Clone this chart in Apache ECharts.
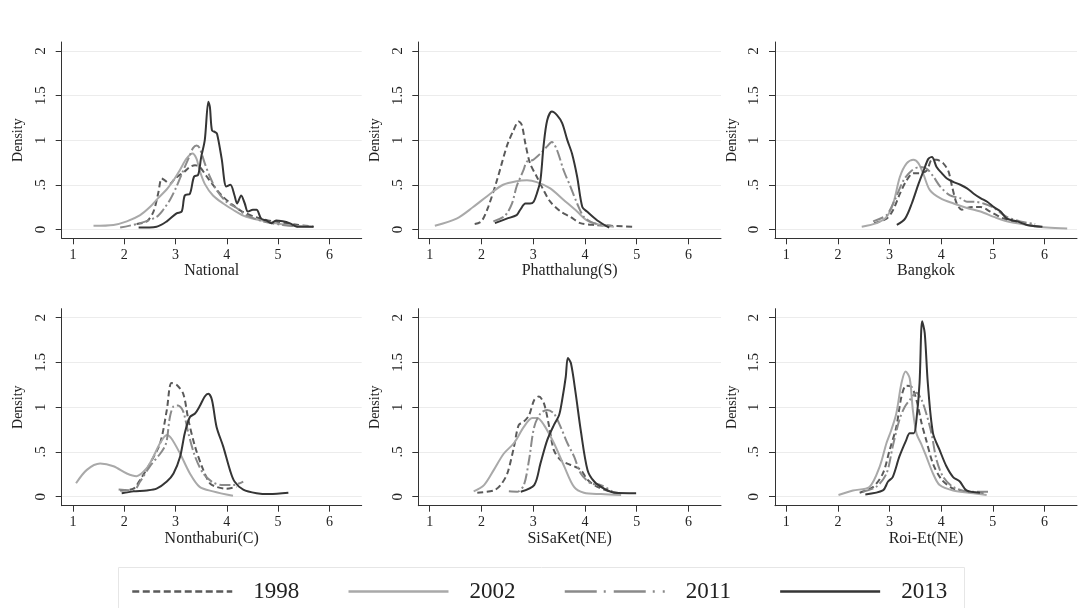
<!DOCTYPE html>
<html><head><meta charset="utf-8">
<script src="https://cdn.jsdelivr.net/npm/echarts@6/dist/echarts.min.js"></script>
<style>html,body{margin:0;padding:0;background:#fff}#c{width:1081px;height:608px}</style>
</head><body><div id="c"></div><script>
const years = ['1998', '2002', '2011', '2013'];
const panelNames = ['National', 'Phatthalung(S)', 'Bangkok', 'Nonthaburi(C)', 'SiSaKet(NE)', 'Roi-Et(NE)'];
const yTicks = [0, 0.5, 1, 1.5, 2];
const yTickLabels = ['0', '.5', '1', '1.5', '2'];
const xTicks = [1, 2, 3, 4, 5, 6];

// National
const national1998 = [[2.24,0.06],[2.44,0.09],[2.57,0.2],[2.66,0.4],[2.73,0.57],[2.79,0.55],[2.89,0.51],[2.99,0.57],[3.18,0.65],[3.28,0.7],[3.38,0.72],[3.47,0.7],[3.6,0.6],[3.7,0.52],[3.9,0.38],[4.1,0.28],[4.3,0.2],[4.6,0.13],[5.0,0.08],[5.4,0.05],[5.7,0.03]];
const national2002 = [[1.4,0.04],[1.79,0.05],[2.05,0.09],[2.31,0.16],[2.5,0.25],[2.66,0.35],[2.83,0.45],[2.96,0.55],[3.08,0.66],[3.21,0.79],[3.33,0.85],[3.41,0.79],[3.47,0.66],[3.57,0.51],[3.73,0.38],[3.93,0.29],[4.12,0.22],[4.38,0.14],[4.77,0.09],[5.16,0.05],[5.68,0.03]];
const national2011 = [[1.92,0.02],[2.31,0.07],[2.63,0.14],[2.76,0.22],[2.89,0.33],[3.02,0.48],[3.15,0.66],[3.28,0.83],[3.34,0.91],[3.41,0.94],[3.47,0.91],[3.57,0.74],[3.67,0.59],[3.8,0.44],[3.99,0.31],[4.19,0.24],[4.38,0.16],[4.7,0.09],[5.09,0.05],[5.42,0.03]];
const national2013 = [[2.28,0.02],[2.63,0.03],[2.83,0.09],[3.02,0.18],[3.12,0.2],[3.18,0.38],[3.28,0.4],[3.36,0.59],[3.44,0.61],[3.5,0.81],[3.57,1.0],[3.64,1.43],[3.67,1.37],[3.71,1.11],[3.77,1.09],[3.81,1.07],[3.9,0.79],[3.99,0.48],[4.07,0.5],[4.15,0.38],[4.2,0.29],[4.28,0.38],[4.35,0.29],[4.41,0.2],[4.51,0.22],[4.58,0.22],[4.67,0.12],[4.77,0.1],[4.87,0.07],[4.96,0.1],[5.09,0.09],[5.22,0.07],[5.38,0.03],[5.68,0.03]];

// Phatthalung(S)
const phatthalung1998 = [[1.87,0.06],[2.0,0.09],[2.13,0.25],[2.3,0.55],[2.49,0.93],[2.62,1.11],[2.72,1.21],[2.78,1.17],[2.85,0.96],[2.94,0.74],[3.07,0.59],[3.2,0.44],[3.33,0.31],[3.53,0.2],[3.72,0.14],[3.91,0.07],[4.17,0.05],[4.95,0.03]];
const phatthalung2002 = [[1.1,0.04],[1.52,0.12],[1.84,0.25],[2.17,0.4],[2.42,0.5],[2.68,0.54],[2.88,0.55],[3.07,0.53],[3.33,0.46],[3.59,0.33],[3.85,0.2],[4.04,0.1],[4.3,0.05],[4.56,0.03]];
const phatthalung2011 = [[2.23,0.09],[2.45,0.15],[2.59,0.29],[2.68,0.48],[2.81,0.66],[2.88,0.76],[3.0,0.78],[3.14,0.85],[3.27,0.93],[3.36,0.98],[3.46,0.89],[3.59,0.66],[3.72,0.48],[3.85,0.29],[3.98,0.14],[4.17,0.07],[4.5,0.04]];
const phatthalung2013 = [[2.26,0.07],[2.49,0.12],[2.68,0.16],[2.75,0.22],[2.85,0.29],[2.94,0.29],[3.01,0.31],[3.07,0.4],[3.14,0.55],[3.2,0.93],[3.27,1.22],[3.36,1.32],[3.46,1.28],[3.56,1.19],[3.66,1.0],[3.75,0.85],[3.85,0.59],[3.95,0.25],[4.04,0.2],[4.24,0.1],[4.47,0.02]];

// Bangkok
const bangkok1998 = [[2.7,0.07],[2.94,0.12],[3.07,0.22],[3.2,0.4],[3.33,0.55],[3.46,0.63],[3.59,0.63],[3.72,0.66],[3.82,0.78],[3.91,0.78],[4.04,0.74],[4.14,0.65],[4.21,0.48],[4.3,0.29],[4.4,0.22],[4.5,0.24],[4.63,0.25],[4.76,0.25],[4.95,0.2],[5.21,0.12],[5.53,0.07],[5.86,0.03]];
const bangkok2002 = [[2.46,0.03],[2.75,0.07],[2.94,0.14],[3.07,0.29],[3.2,0.59],[3.33,0.74],[3.46,0.78],[3.56,0.74],[3.66,0.61],[3.78,0.44],[3.98,0.35],[4.24,0.29],[4.5,0.24],[4.76,0.2],[5.02,0.14],[5.27,0.09],[5.66,0.05],[6.05,0.02],[6.44,0.01]];
const bangkok2011 = [[2.68,0.09],[2.94,0.16],[3.1,0.33],[3.27,0.55],[3.43,0.66],[3.59,0.7],[3.72,0.68],[3.85,0.59],[3.98,0.48],[4.17,0.38],[4.37,0.35],[4.5,0.31],[4.63,0.31],[4.82,0.29],[5.02,0.24],[5.27,0.14],[5.53,0.09],[5.82,0.06]];
const bangkok2013 = [[3.14,0.05],[3.3,0.12],[3.43,0.29],[3.56,0.51],[3.66,0.66],[3.75,0.79],[3.82,0.81],[3.91,0.7],[4.01,0.63],[4.11,0.57],[4.24,0.53],[4.37,0.5],[4.5,0.46],[4.63,0.4],[4.76,0.35],[4.89,0.31],[5.02,0.25],[5.15,0.2],[5.27,0.12],[5.47,0.09],[5.66,0.05],[5.96,0.03]];

// Nonthaburi(C)
const nonthaburi1998 = [[1.92,0.07],[2.18,0.09],[2.31,0.19],[2.5,0.37],[2.7,0.6],[2.83,0.97],[2.92,1.27],[3.02,1.25],[3.15,1.15],[3.25,0.86],[3.38,0.56],[3.54,0.3],[3.67,0.15],[3.8,0.11],[3.99,0.09],[4.19,0.11]];
const nonthaburi2002 = [[1.06,0.15],[1.27,0.3],[1.53,0.37],[1.79,0.34],[2.05,0.26],[2.24,0.23],[2.44,0.32],[2.57,0.45],[2.7,0.6],[2.83,0.69],[2.92,0.65],[3.09,0.48],[3.28,0.26],[3.47,0.11],[3.73,0.06],[4.12,0.01]];
const nonthaburi2011 = [[1.89,0.08],[2.18,0.07],[2.31,0.17],[2.5,0.34],[2.7,0.48],[2.79,0.56],[2.83,0.63],[2.89,0.89],[2.96,1.01],[3.05,1.02],[3.15,0.95],[3.25,0.71],[3.38,0.45],[3.54,0.26],[3.73,0.16],[3.93,0.13],[4.12,0.13],[4.32,0.17]];
const nonthaburi2013 = [[1.95,0.04],[2.18,0.06],[2.44,0.07],[2.63,0.09],[2.83,0.17],[2.96,0.26],[3.09,0.45],[3.18,0.71],[3.28,0.89],[3.38,0.93],[3.47,1.01],[3.57,1.12],[3.64,1.15],[3.71,1.08],[3.8,0.78],[3.93,0.56],[4.06,0.3],[4.15,0.17],[4.32,0.08],[4.58,0.04],[4.83,0.03],[5.2,0.045]];

// SiSaKet(NE)
const sisaket1998 = [[1.92,0.045],[2.24,0.07],[2.37,0.13],[2.5,0.26],[2.63,0.56],[2.72,0.8],[2.82,0.84],[2.92,0.91],[3.02,1.08],[3.11,1.12],[3.21,1.04],[3.31,0.78],[3.4,0.52],[3.53,0.41],[3.66,0.37],[3.79,0.34],[3.92,0.3],[4.05,0.19],[4.24,0.11],[4.5,0.056],[4.7,0.04]];
const sisaket2002 = [[1.85,0.06],[2.05,0.13],[2.24,0.3],[2.43,0.48],[2.63,0.6],[2.82,0.78],[2.98,0.88],[3.08,0.88],[3.21,0.8],[3.4,0.6],[3.6,0.34],[3.79,0.11],[3.98,0.045],[4.31,0.03],[4.7,0.02]];
const sisaket2011 = [[2.53,0.06],[2.69,0.056],[2.82,0.13],[2.92,0.41],[3.02,0.78],[3.14,0.93],[3.27,0.97],[3.4,0.93],[3.53,0.78],[3.66,0.6],[3.79,0.45],[3.92,0.26],[4.11,0.15],[4.31,0.13],[4.57,0.045]];
const sisaket2013 = [[2.76,0.056],[3.02,0.13],[3.14,0.37],[3.27,0.63],[3.4,0.8],[3.5,0.91],[3.56,1.08],[3.63,1.34],[3.67,1.55],[3.73,1.49],[3.82,1.16],[3.92,0.74],[4.05,0.3],[4.18,0.17],[4.37,0.09],[4.57,0.045],[4.99,0.04]];

// Roi-Et(NE)
const roiet1998 = [[2.42,0.045],[2.68,0.11],[2.87,0.26],[3.0,0.52],[3.13,0.78],[3.23,1.12],[3.32,1.24],[3.42,1.23],[3.52,1.08],[3.62,0.82],[3.71,0.63],[3.84,0.37],[4.01,0.19],[4.23,0.09],[4.49,0.056],[4.82,0.04]];
const roiet2002 = [[2.01,0.02],[2.29,0.07],[2.61,0.11],[2.81,0.34],[2.94,0.6],[3.03,0.74],[3.13,0.93],[3.23,1.27],[3.31,1.4],[3.39,1.32],[3.45,0.97],[3.52,0.71],[3.62,0.58],[3.71,0.45],[3.84,0.26],[3.97,0.13],[4.23,0.07],[4.62,0.04],[4.88,0.02]];
const roiet2011 = [[2.48,0.056],[2.74,0.11],[2.94,0.26],[3.06,0.56],[3.19,0.86],[3.29,1.0],[3.39,1.08],[3.52,1.16],[3.62,1.08],[3.71,0.93],[3.81,0.71],[3.91,0.41],[4.04,0.22],[4.23,0.11],[4.56,0.056],[4.95,0.056]];
const roiet2013 = [[2.53,0.026],[2.87,0.07],[2.97,0.17],[3.06,0.22],[3.19,0.45],[3.32,0.63],[3.39,0.71],[3.47,0.71],[3.52,0.86],[3.58,1.27],[3.63,1.96],[3.68,1.83],[3.74,1.27],[3.84,0.71],[3.97,0.52],[4.1,0.34],[4.23,0.22],[4.36,0.17],[4.49,0.07],[4.75,0.045]];

const panelData = [
  [national1998, national2002, national2011, national2013],
  [phatthalung1998, phatthalung2002, phatthalung2011, phatthalung2013],
  [bangkok1998, bangkok2002, bangkok2011, bangkok2013],
  [nonthaburi1998, nonthaburi2002, nonthaburi2011, nonthaburi2013],
  [sisaket1998, sisaket2002, sisaket2011, sisaket2013],
  [roiet1998, roiet2002, roiet2011, roiet2013]
];

const FONT = 'Liberation Serif';
const TXT = '#222';
const yearStyles = [
  { color: '#5a5a5a', width: 2, type: [6, 3.5] },
  { color: '#a9a9a9', width: 2, type: 'solid' },
  { color: '#8a8a8a', width: 2, type: [11, 3, 2, 3] },
  { color: '#353535', width: 2, type: 'solid' }
];
const legendLineTypes = [[7, 3.5], 'solid', [32, 7, 2, 8], 'solid'];

const lefts = [61.7, 418.3, 775];
const widths = [300, 302.7, 302];
const tops = [42, 308.7];
const heights = [196.3, 197];

const grids = [], xAxes = [], yAxes = [], series = [];
for (let p = 0; p < 6; p++) {
  const r = Math.floor(p / 3), c = p % 3;
  grids.push({ left: lefts[c], top: tops[r], width: widths[c], height: heights[r], containLabel: false });
  xAxes.push({
    type: 'value', gridIndex: p, min: 0.78, max: 6.63,
    name: panelNames[p], nameLocation: 'middle', nameGap: 23,
    nameTextStyle: { fontFamily: FONT, fontSize: 16, color: TXT },
    axisLine: { show: true, onZero: false, lineStyle: { color: '#333', width: 1 } },
    axisTick: { show: true, length: 6, customValues: xTicks, lineStyle: { color: '#333' } },
    axisLabel: { customValues: xTicks, margin: 10, fontFamily: FONT, fontSize: 14, color: TXT },
    splitLine: { show: false }
  });
  yAxes.push({
    type: 'value', gridIndex: p, min: -0.1, max: 2.1,
    name: 'Density', nameLocation: 'middle', nameGap: 36, nameRotate: 90,
    nameTextStyle: { fontFamily: FONT, fontSize: 14, color: TXT },
    axisLine: { show: true, onZero: false, lineStyle: { color: '#333', width: 1 } },
    axisTick: { show: true, length: 6, customValues: yTicks, lineStyle: { color: '#333' } },
    axisLabel: {
      customValues: yTicks, rotate: 90, margin: 13, fontFamily: FONT, fontSize: 15, color: TXT,
      formatter: v => { const i = yTicks.findIndex(t => Math.abs(t - v) < 1e-9); return i >= 0 ? yTickLabels[i] : ''; }
    },
    splitLine: { show: true, lineStyle: { color: '#ececec', width: 1 } }
  });
  for (let k = 0; k < 4; k++) {
    series.push({
      type: 'line', name: years[k], xAxisIndex: p, yAxisIndex: p,
      data: panelData[p][k], symbol: 'none', smooth: 0.3, silent: true,
      lineStyle: Object.assign({}, yearStyles[k]), itemStyle: { color: yearStyles[k].color },
      z: 2 + k
    });
  }
}

const chart = echarts.init(document.getElementById('c'), null, { renderer: 'canvas' });
chart.setOption({
  animation: false,
  backgroundColor: '#fff',
  grid: grids, xAxis: xAxes, yAxis: yAxes, series: series,
  legend: {
    show: true,
    left: 131, top: 580,
    padding: 0,
    itemWidth: 100, itemHeight: 24, itemGap: 48,
    selectedMode: false,
    textStyle: { fontFamily: FONT, fontSize: 23, color: TXT, padding: [0, 0, 0, 16] },
    data: years.map((y, k) => ({
      name: y,
      itemStyle: { opacity: 0 },
      lineStyle: { color: yearStyles[k].color, width: 2.5, type: legendLineTypes[k] }
    }))
  },
  graphic: [{
    type: 'rect', silent: true, z: 0,
    shape: { x: 118.5, y: 567.5, width: 846, height: 60 },
    style: { fill: 'none', stroke: '#e6e6e6', lineWidth: 1 }
  }]
});
</script></body></html>
